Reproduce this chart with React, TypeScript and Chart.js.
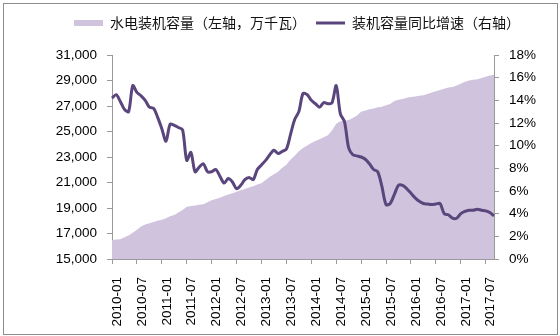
import React, { useEffect, useRef } from 'react';
import { Chart, registerables } from 'chart.js';

Chart.register(...registerables);

const months: string[] = [
  '2010-01','2010-02','2010-03','2010-04','2010-05','2010-06','2010-07','2010-08','2010-09','2010-10','2010-11','2010-12',
  '2011-01','2011-02','2011-03','2011-04','2011-05','2011-06','2011-07','2011-08','2011-09','2011-10','2011-11','2011-12',
  '2012-01','2012-02','2012-03','2012-04','2012-05','2012-06','2012-07','2012-08','2012-09','2012-10','2012-11','2012-12',
  '2013-01','2013-02','2013-03','2013-04','2013-05','2013-06','2013-07','2013-08','2013-09','2013-10','2013-11','2013-12',
  '2014-01','2014-02','2014-03','2014-04','2014-05','2014-06','2014-07','2014-08','2014-09','2014-10','2014-11','2014-12',
  '2015-01','2015-02','2015-03','2015-04','2015-05','2015-06','2015-07','2015-08','2015-09','2015-10','2015-11','2015-12',
  '2016-01','2016-02','2016-03','2016-04','2016-05','2016-06','2016-07','2016-08','2016-09','2016-10','2016-11','2016-12',
  '2017-01','2017-02','2017-03','2017-04','2017-05','2017-06','2017-07','2017-08','2017-09',
];

// 水电装机容量（万千瓦）
const capacity: number[] = [
  16500, 16520, 16550, 16700, 16850, 17050, 17300, 17550, 17700, 17800, 17900, 18000,
  18080, 18200, 18350, 18450, 18650, 18850, 19100, 19150, 19200, 19250, 19300, 19450,
  19600, 19700, 19800, 19950, 20050, 20150, 20280, 20400, 20500, 20600, 20700, 20850,
  20950, 21200, 21450, 21650, 21850, 22150, 22400, 22800, 23100, 23450, 23700, 23900,
  24100, 24250, 24400, 24550, 24700, 25100, 25600, 25800, 25850, 25900, 26050, 26250,
  26550, 26650, 26750, 26800, 26900, 26950, 27050, 27150, 27400, 27500, 27550, 27650,
  27700, 27750, 27800, 27850, 27950, 28050, 28150, 28250, 28350, 28450, 28500, 28600,
  28750, 28900, 29000, 29050, 29100, 29200, 29300, 29400, 29450,
];

// 装机容量同比增速（%）
const growth: number[] = [
  14.2, 14.5, 13.9, 13.2, 13.0, 15.3, 14.7, 14.4, 14.0, 13.4, 13.3, 12.5,
  11.5, 10.4, 11.9, 11.8, 11.6, 11.4, 8.7, 9.4, 7.7, 8.1, 8.4, 7.7,
  7.7, 7.9, 7.3, 6.7, 7.1, 6.8, 6.2, 6.5, 7.0, 7.2, 7.0, 7.9,
  8.3, 8.7, 9.2, 9.6, 9.3, 9.5, 9.7, 11.0, 12.3, 13.0, 14.6, 14.5,
  14.0, 13.7, 13.4, 13.8, 13.7, 13.8, 15.3, 12.8, 12.1, 9.8, 9.2, 9.1,
  9.0, 8.8, 8.4, 7.9, 7.7, 6.4, 4.8, 4.9, 5.7, 6.5, 6.5, 6.2,
  5.8, 5.4, 5.1, 4.9, 4.85, 4.8, 4.85, 4.9, 4.0, 3.9, 3.6, 3.6,
  4.0, 4.2, 4.3, 4.3, 4.4, 4.3, 4.25, 4.1, 3.8,
];

const legendLabels: string[] = ['水电装机容量（左轴，万千瓦）', '装机容量同比增速（右轴）'];

const AREA = 'rgb(207,195,222)';
const LINE = 'rgb(90,70,124)';
const AXIS = '#9a9a9a';
const TICK_FONT = { family: '"Liberation Sans", Arial, sans-serif', size: 13.5 };

export default function App() {
  const ref = useRef<HTMLCanvasElement>(null);
  useEffect(() => {
    const chart = new Chart(ref.current as HTMLCanvasElement, {
      type: 'line',
      data: {
        labels: months,
        datasets: [
          {
            label: legendLabels[0],
            data: capacity,
            yAxisID: 'y',
            fill: 'start',
            backgroundColor: AREA,
            borderColor: AREA,
            borderWidth: 0,
            pointRadius: 0,
            tension: 0,
            order: 2,
          },
          {
            label: legendLabels[1],
            data: growth,
            yAxisID: 'y1',
            fill: false,
            borderColor: LINE,
            backgroundColor: LINE,
            borderWidth: 3,
            pointRadius: 0,
            tension: 0.3,
            order: 1,
          },
        ],
      },
      options: {
        responsive: false,
        animation: false,
        layout: { padding: { left: 34, right: 0, top: 6, bottom: 0 } },
        plugins: {
          tooltip: { enabled: false },
          title: {
            display: true,
            text: ' ',
            weight: 500,
            position: 'top',
            font: { size: 10, lineHeight: 1 },
            padding: { top: 0, bottom: 5 },
          },
          legend: {
            display: true,
            position: 'top',
            labels: {
              usePointStyle: true,
              pointStyleWidth: 29,
              boxWidth: 29,
              boxHeight: 6,
              padding: 10,
              color: '#111',
              font: { family: '"Noto Sans CJK SC", sans-serif', size: 14 },
              generateLabels: () => [
                { text: legendLabels[0], fillStyle: AREA, strokeStyle: AREA, lineWidth: 0, pointStyle: 'rect', datasetIndex: 0, hidden: false, fontColor: '#111' },
                { text: legendLabels[1], fillStyle: LINE, strokeStyle: LINE, lineWidth: 3, pointStyle: 'line', datasetIndex: 1, hidden: false, fontColor: '#111' },
              ],
            },
          },
        },
        scales: {
          x: {
            type: 'category',
            grid: { display: true, drawOnChartArea: false, drawTicks: true, tickLength: 5, color: AXIS },
            border: { display: true, color: AXIS },
            ticks: { autoSkip: false, minRotation: 90, maxRotation: 90, padding: 13, labelOffset: 5, color: '#000', font: TICK_FONT },
            afterBuildTicks: (s: any) => { s.ticks = s.ticks.filter((t: any) => t.value % 6 === 0); },
            afterFit: (s: any) => { s.height = 77; },
          },
          y: {
            position: 'left',
            min: 15000,
            max: 31000,
            grid: { display: true, drawOnChartArea: false, tickLength: 5, color: AXIS },
            border: { display: true, color: AXIS },
            ticks: { stepSize: 2000, padding: 10, color: '#000', font: TICK_FONT, callback: (v: any) => Number(v).toLocaleString('en-US') },
            afterFit: (s: any) => { s.width = 78; },
          },
          y1: {
            position: 'right',
            min: 0,
            max: 18,
            grid: { display: true, drawOnChartArea: false, tickLength: 5, color: AXIS },
            border: { display: true, color: AXIS },
            ticks: { stepSize: 2, padding: 10, color: '#000', font: TICK_FONT, callback: (v: any) => v + '%' },
            afterFit: (s: any) => { s.width = 66; },
          },
        },
      },
    } as any);
    return () => chart.destroy();
  }, []);

  return (
    <div style={{ position: 'fixed', left: 0, top: 0, width: 560, height: 336, background: '#fff' }}>
      <div style={{ position: 'absolute', left: 3, top: 3, width: 555, height: 332, border: '1px solid #8c8c8c', boxSizing: 'border-box' }} />
      <canvas ref={ref} width={560} height={336} style={{ position: 'absolute', left: 0, top: 0, width: 560, height: 336 }} />
    </div>
  );
}
